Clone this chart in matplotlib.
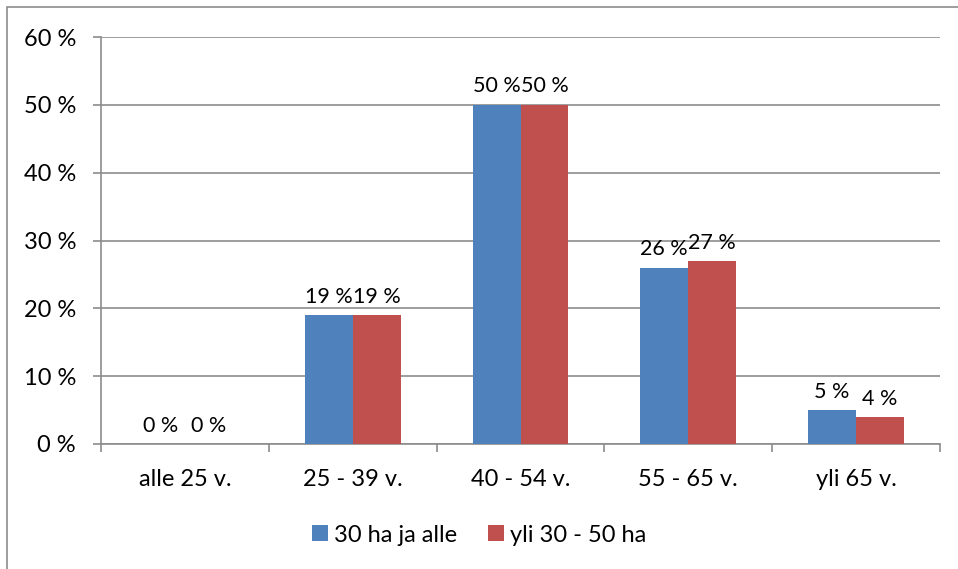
import numpy as np
import matplotlib.pyplot as plt
from matplotlib.patches import Rectangle

categories = ["alle 25 v.", "25 - 39 v.", "40 - 54 v.", "55 - 65 v.", "yli 65 v."]
small_farms = [0, 19, 50, 26, 5]
mid_farms = [0, 19, 50, 27, 4]
series_names = ["30 ha ja alle", "yli 30 - 50 ha"]
yticks = [0, 10, 20, 30, 40, 50, 60]

plt.rcParams['font.family'] = ['Lato', 'DejaVu Sans']

fig = plt.figure(figsize=(9.58, 5.69), dpi=100)
# outer chart frame (Excel style)
fig.patches.append(Rectangle((7 / 958, -0.01), 1.02, 1 - 7 / 569 + 0.01,
                             transform=fig.transFigure, fill=False,
                             edgecolor='#8c8c8c', linewidth=1.2))

ax = fig.add_axes([101 / 958, 1 - 444 / 569, (940 - 101) / 958, (444 - 37) / 569])

x = np.arange(len(categories))
w = 0.286
blue = '#4F81BD'
red = '#C0504D'
b1 = ax.bar(x - w / 2, small_farms, w, color=blue, label=series_names[0], zorder=3)
b2 = ax.bar(x + w / 2, mid_farms, w, color=red, label=series_names[1], zorder=3)

for bars, vals in [(b1, small_farms), (b2, mid_farms)]:
    for rect, v in zip(bars, vals):
        ax.annotate(f"{v} %", (rect.get_x() + rect.get_width() / 2, v),
                    xytext=(0, 6), textcoords='offset points',
                    ha='center', va='bottom', fontsize=15.5)

ax.set_xlim(-0.5, len(categories) - 0.5)
ax.set_ylim(0, 60)
ax.set_yticks(yticks)
ax.set_yticklabels([f"{t} %" for t in yticks], fontsize=17)
ax.yaxis.grid(True, color='#8c8c8c', linewidth=1.2, zorder=0)

ax.set_xticks(x)
ax.set_xticklabels(categories, fontsize=17)
ax.tick_params(axis='x', length=0, pad=18)
ax.set_xticks(np.arange(len(categories) + 1) - 0.5, minor=True)
ax.tick_params(axis='x', which='minor', length=6, color='#8c8c8c', width=1.2)
ax.tick_params(axis='y', length=6, color='#8c8c8c', width=1.2, pad=12)

for s in ['top', 'right']:
    ax.spines[s].set_visible(False)
for s in ['left', 'bottom']:
    ax.spines[s].set_color('#8c8c8c')
    ax.spines[s].set_linewidth(1.2)

fig.legend(loc='center', bbox_to_anchor=(0.5, 1 - 535 / 569), ncol=2,
           frameon=False, fontsize=17, handlelength=0.68, handleheight=0.68,
           handletextpad=0.25, columnspacing=1.3)

fig.savefig("out.png", dpi=100)
